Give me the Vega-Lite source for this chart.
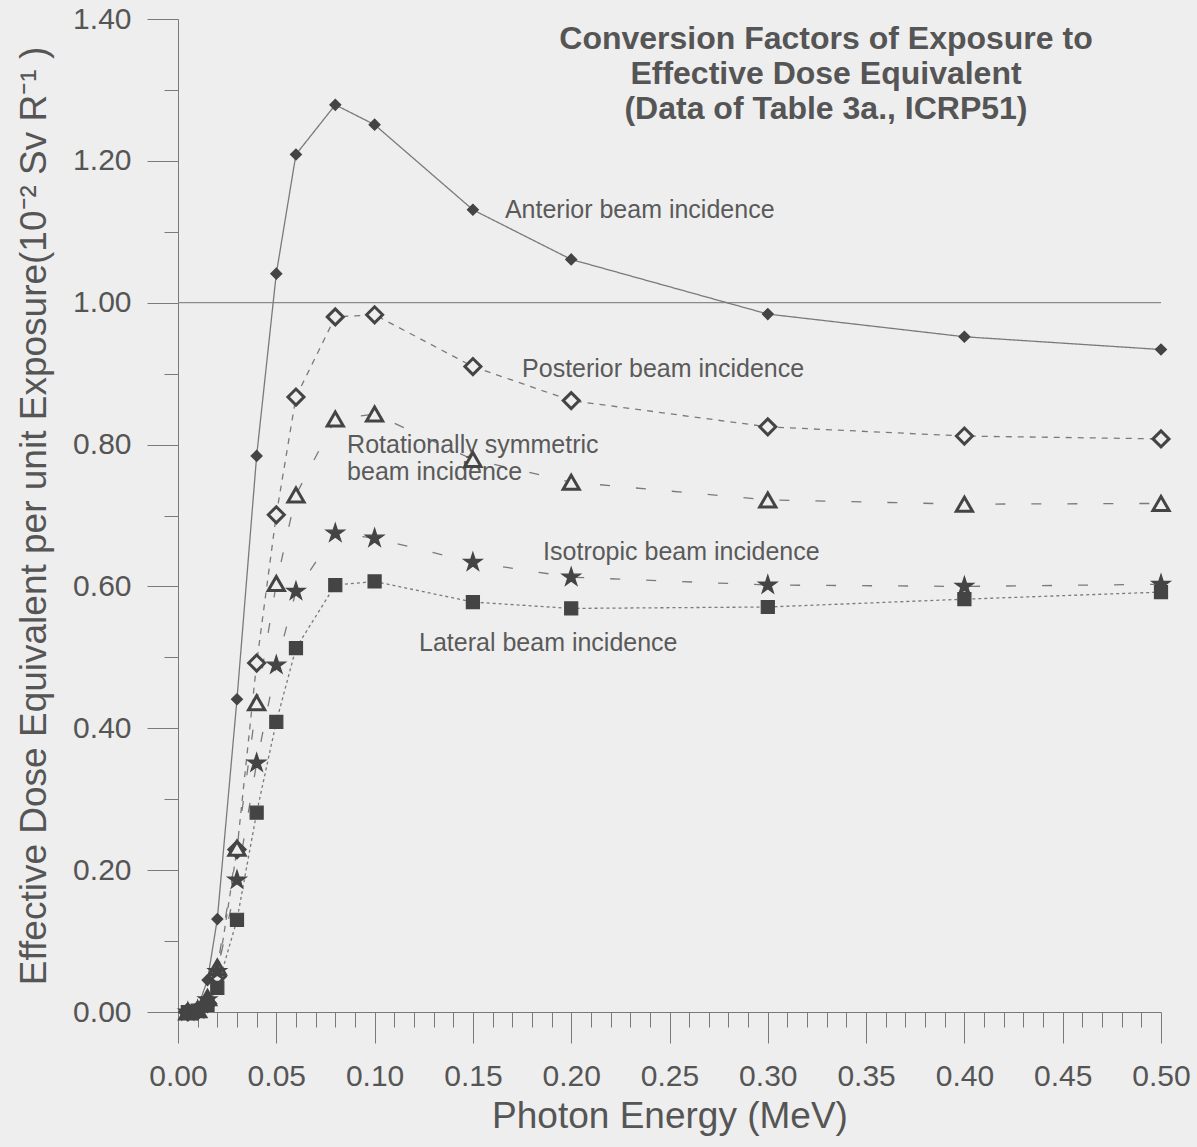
{
  "$schema": "https://vega.github.io/schema/vega-lite/v6.json",
  "width": 983,
  "height": 993,
  "autosize": {"type": "none"},
  "padding": {"left": 178, "top": 19, "right": 36, "bottom": 135},
  "background": "#eeeeee",
  "config": {"view": {"stroke": null}, "font": "Liberation Sans"},
  "datasets": {
    "curves": [
      {"series": "Anterior", "energy": 0.005, "value": 0.0005},
      {"series": "Anterior", "energy": 0.01, "value": 0.006},
      {"series": "Anterior", "energy": 0.015, "value": 0.045},
      {"series": "Anterior", "energy": 0.02, "value": 0.131},
      {"series": "Anterior", "energy": 0.03, "value": 0.441},
      {"series": "Anterior", "energy": 0.04, "value": 0.784},
      {"series": "Anterior", "energy": 0.05, "value": 1.041},
      {"series": "Anterior", "energy": 0.06, "value": 1.209},
      {"series": "Anterior", "energy": 0.08, "value": 1.279},
      {"series": "Anterior", "energy": 0.1, "value": 1.251},
      {"series": "Anterior", "energy": 0.15, "value": 1.131},
      {"series": "Anterior", "energy": 0.2, "value": 1.061},
      {"series": "Anterior", "energy": 0.3, "value": 0.984},
      {"series": "Anterior", "energy": 0.4, "value": 0.952},
      {"series": "Anterior", "energy": 0.5, "value": 0.934},
      {"series": "Posterior", "energy": 0.005, "value": 0},
      {"series": "Posterior", "energy": 0.01, "value": 0.002},
      {"series": "Posterior", "energy": 0.015, "value": 0.012},
      {"series": "Posterior", "energy": 0.02, "value": 0.05},
      {"series": "Posterior", "energy": 0.03, "value": 0.229},
      {"series": "Posterior", "energy": 0.04, "value": 0.492},
      {"series": "Posterior", "energy": 0.05, "value": 0.701},
      {"series": "Posterior", "energy": 0.06, "value": 0.867},
      {"series": "Posterior", "energy": 0.08, "value": 0.98},
      {"series": "Posterior", "energy": 0.1, "value": 0.983},
      {"series": "Posterior", "energy": 0.15, "value": 0.91},
      {"series": "Posterior", "energy": 0.2, "value": 0.862},
      {"series": "Posterior", "energy": 0.3, "value": 0.825},
      {"series": "Posterior", "energy": 0.4, "value": 0.812},
      {"series": "Posterior", "energy": 0.5, "value": 0.808},
      {"series": "Rotational", "energy": 0.005, "value": 0},
      {"series": "Rotational", "energy": 0.01, "value": 0.003},
      {"series": "Rotational", "energy": 0.015, "value": 0.02},
      {"series": "Rotational", "energy": 0.02, "value": 0.063},
      {"series": "Rotational", "energy": 0.03, "value": 0.231},
      {"series": "Rotational", "energy": 0.04, "value": 0.436},
      {"series": "Rotational", "energy": 0.05, "value": 0.604},
      {"series": "Rotational", "energy": 0.06, "value": 0.729},
      {"series": "Rotational", "energy": 0.08, "value": 0.836},
      {"series": "Rotational", "energy": 0.1, "value": 0.843},
      {"series": "Rotational", "energy": 0.15, "value": 0.779},
      {"series": "Rotational", "energy": 0.2, "value": 0.747},
      {"series": "Rotational", "energy": 0.3, "value": 0.722},
      {"series": "Rotational", "energy": 0.4, "value": 0.716},
      {"series": "Rotational", "energy": 0.5, "value": 0.717},
      {"series": "Isotropic", "energy": 0.005, "value": 0},
      {"series": "Isotropic", "energy": 0.01, "value": 0.003},
      {"series": "Isotropic", "energy": 0.015, "value": 0.017},
      {"series": "Isotropic", "energy": 0.02, "value": 0.057},
      {"series": "Isotropic", "energy": 0.03, "value": 0.186},
      {"series": "Isotropic", "energy": 0.04, "value": 0.351},
      {"series": "Isotropic", "energy": 0.05, "value": 0.489},
      {"series": "Isotropic", "energy": 0.06, "value": 0.593},
      {"series": "Isotropic", "energy": 0.08, "value": 0.675},
      {"series": "Isotropic", "energy": 0.1, "value": 0.668},
      {"series": "Isotropic", "energy": 0.15, "value": 0.634},
      {"series": "Isotropic", "energy": 0.2, "value": 0.613},
      {"series": "Isotropic", "energy": 0.3, "value": 0.602},
      {"series": "Isotropic", "energy": 0.4, "value": 0.6},
      {"series": "Isotropic", "energy": 0.5, "value": 0.603},
      {"series": "Lateral", "energy": 0.005, "value": 0},
      {"series": "Lateral", "energy": 0.01, "value": 0.002},
      {"series": "Lateral", "energy": 0.015, "value": 0.01},
      {"series": "Lateral", "energy": 0.02, "value": 0.034},
      {"series": "Lateral", "energy": 0.03, "value": 0.13},
      {"series": "Lateral", "energy": 0.04, "value": 0.281},
      {"series": "Lateral", "energy": 0.05, "value": 0.409},
      {"series": "Lateral", "energy": 0.06, "value": 0.513},
      {"series": "Lateral", "energy": 0.08, "value": 0.602},
      {"series": "Lateral", "energy": 0.1, "value": 0.607},
      {"series": "Lateral", "energy": 0.15, "value": 0.578},
      {"series": "Lateral", "energy": 0.2, "value": 0.569},
      {"series": "Lateral", "energy": 0.3, "value": 0.571},
      {"series": "Lateral", "energy": 0.4, "value": 0.582},
      {"series": "Lateral", "energy": 0.5, "value": 0.592}
    ],
    "notes": [
      {"text": "Anterior beam incidence", "energy": 0.1663, "value": 1.131},
      {"text": "Posterior beam incidence", "energy": 0.175, "value": 0.906},
      {"text": "Rotationally symmetric", "energy": 0.086, "value": 0.8},
      {"text": "beam incidence", "energy": 0.086, "value": 0.762},
      {"text": "Isotropic beam incidence", "energy": 0.1857, "value": 0.649},
      {"text": "Lateral beam incidence", "energy": 0.1226, "value": 0.5205}
    ],
    "heading": [
      {"text": "Conversion Factors of Exposure to", "energy": 0.3296, "value": 1.3725},
      {"text": "Effective Dose Equivalent", "energy": 0.3296, "value": 1.3225},
      {"text": "(Data of Table 3a., ICRP51)", "energy": 0.3296, "value": 1.2725}
    ]
  },
  "layer": [
    {
      "data": {"values": [{}]},
      "mark": {"type": "rule", "color": "#8a8a8a", "strokeWidth": 1.2},
      "encoding": {
        "y": {"datum": 1, "type": "quantitative", "title": "Effective Dose Equivalent per unit Exposure(10⁻² Sv R⁻¹ )"}
      }
    },
    {
      "data": {"name": "curves"},
      "mark": {"type": "line", "color": "#7a7a7a", "strokeWidth": 1.3},
      "encoding": {
        "x": {
          "field": "energy",
          "type": "quantitative",
          "title": "Photon Energy (MeV)",
          "scale": {"domain": [0, 0.5], "nice": false, "zero": false},
          "axis": {
            "values": [0, 0.01, 0.02, 0.03, 0.04, 0.05, 0.06, 0.07, 0.08, 0.09, 0.1, 0.11, 0.12, 0.13, 0.14, 0.15, 0.16, 0.17, 0.18, 0.19, 0.2, 0.21, 0.22, 0.23, 0.24, 0.25, 0.26, 0.27, 0.28, 0.29, 0.3, 0.31, 0.32, 0.33, 0.34, 0.35, 0.36, 0.37, 0.38, 0.39, 0.4, 0.41, 0.42, 0.43, 0.44, 0.45, 0.46, 0.47, 0.48, 0.49, 0.5],
            "tickCount": 51,
            "labelExpr": "round(datum.value * 100) % 5 == 0 ? format(datum.value, '.2f') : ''",
            "tickSize": {"condition": {"test": "round(datum.value * 100) % 5 == 0", "value": 31}, "value": 15},
            "grid": false,
            "labelOverlap": false,
            "labelFlush": false,
            "labelFontSize": 30,
            "labelColor": "#555555",
            "labelPadding": 18,
            "titleFontSize": 37,
            "titleFontWeight": "normal",
            "titleColor": "#555555",
            "titlePadding": 7,
            "domainColor": "#7a7a7a",
            "tickColor": "#7a7a7a"
          }
        },
        "y": {
          "field": "value",
          "type": "quantitative",
          "title": "Effective Dose Equivalent per unit Exposure(10⁻² Sv R⁻¹ )",
          "scale": {"domain": [0, 1.4], "nice": false},
          "axis": {
            "values": [0, 0.1, 0.2, 0.3, 0.4, 0.5, 0.6, 0.7, 0.8, 0.9, 1, 1.1, 1.2, 1.3, 1.4],
            "tickCount": 15,
            "labelExpr": "round(datum.value * 10) % 2 == 0 ? format(datum.value, '.2f') : ''",
            "tickSize": {"condition": {"test": "round(datum.value * 10) % 2 == 0", "value": 31}, "value": 14},
            "grid": false,
            "labelOverlap": false,
            "labelFlush": false,
            "labelFontSize": 30,
            "labelColor": "#555555",
            "labelPadding": 16,
            "titleFontSize": 37,
            "titleFontWeight": "normal",
            "titleColor": "#555555",
            "titlePadding": 19,
            "domainColor": "#7a7a7a",
            "tickColor": "#7a7a7a"
          }
        },
        "detail": {"field": "series", "type": "nominal"},
        "strokeDash": {
          "field": "series",
          "type": "nominal",
          "scale": {
            "domain": ["Anterior", "Posterior", "Rotational", "Isotropic", "Lateral"],
            "range": [[1, 0], [6, 6], [10, 26], [10, 26], [3, 3]]
          },
          "legend": null
        }
      }
    },
    {
      "data": {"name": "notes"},
      "mark": {"type": "text", "align": "left", "baseline": "middle", "fontSize": 25, "color": "#5a5a5a"},
      "encoding": {
        "x": {"field": "energy", "type": "quantitative", "title": "Photon Energy (MeV)"},
        "y": {"field": "value", "type": "quantitative", "title": "Effective Dose Equivalent per unit Exposure(10⁻² Sv R⁻¹ )"},
        "text": {"field": "text"}
      }
    },
    {
      "data": {"name": "curves"},
      "transform": [{"filter": "datum.series == 'Anterior'"}],
      "mark": {"type": "point", "shape": "diamond", "filled": true, "opacity": 1, "fill": "#444444", "stroke": "#444444", "strokeWidth": 1.2, "size": 120},
      "encoding": {
        "x": {"field": "energy", "type": "quantitative", "title": "Photon Energy (MeV)"},
        "y": {"field": "value", "type": "quantitative", "title": "Effective Dose Equivalent per unit Exposure(10⁻² Sv R⁻¹ )"}
      }
    },
    {
      "data": {"name": "curves"},
      "transform": [{"filter": "datum.series == 'Posterior'"}],
      "mark": {"type": "point", "shape": "diamond", "filled": true, "opacity": 1, "fill": "#eeeeee", "stroke": "#444444", "strokeWidth": 3, "size": 256},
      "encoding": {
        "x": {"field": "energy", "type": "quantitative", "title": "Photon Energy (MeV)"},
        "y": {"field": "value", "type": "quantitative", "title": "Effective Dose Equivalent per unit Exposure(10⁻² Sv R⁻¹ )"}
      }
    },
    {
      "data": {"name": "curves"},
      "transform": [{"filter": "datum.series == 'Rotational'"}],
      "mark": {"type": "point", "shape": "triangle-up", "filled": true, "opacity": 1, "fill": "#eeeeee", "stroke": "#444444", "strokeWidth": 3, "size": 260},
      "encoding": {
        "x": {"field": "energy", "type": "quantitative", "title": "Photon Energy (MeV)"},
        "y": {"field": "value", "type": "quantitative", "title": "Effective Dose Equivalent per unit Exposure(10⁻² Sv R⁻¹ )"}
      }
    },
    {
      "data": {"name": "curves"},
      "transform": [{"filter": "datum.series == 'Isotropic'"}],
      "mark": {"type": "point", "shape": "M0,-1L0.2245,-0.309L0.951,-0.309L0.363,0.118L0.588,0.809L0,0.382L-0.588,0.809L-0.363,0.118L-0.951,-0.309L-0.2245,-0.309Z", "filled": true, "opacity": 1, "fill": "#444444", "stroke": "#444444", "strokeWidth": 1.2, "size": 380},
      "encoding": {
        "x": {"field": "energy", "type": "quantitative", "title": "Photon Energy (MeV)"},
        "y": {"field": "value", "type": "quantitative", "title": "Effective Dose Equivalent per unit Exposure(10⁻² Sv R⁻¹ )"}
      }
    },
    {
      "data": {"name": "curves"},
      "transform": [{"filter": "datum.series == 'Lateral'"}],
      "mark": {"type": "point", "shape": "square", "filled": true, "opacity": 1, "fill": "#444444", "stroke": "#444444", "strokeWidth": 1.2, "size": 170},
      "encoding": {
        "x": {"field": "energy", "type": "quantitative", "title": "Photon Energy (MeV)"},
        "y": {"field": "value", "type": "quantitative", "title": "Effective Dose Equivalent per unit Exposure(10⁻² Sv R⁻¹ )"}
      }
    },
    {
      "data": {"name": "heading"},
      "mark": {"type": "text", "align": "center", "baseline": "middle", "fontSize": 32, "fontWeight": "bold", "color": "#555555"},
      "encoding": {
        "x": {"field": "energy", "type": "quantitative", "title": "Photon Energy (MeV)"},
        "y": {"field": "value", "type": "quantitative", "title": "Effective Dose Equivalent per unit Exposure(10⁻² Sv R⁻¹ )"},
        "text": {"field": "text"}
      }
    }
  ]
}
